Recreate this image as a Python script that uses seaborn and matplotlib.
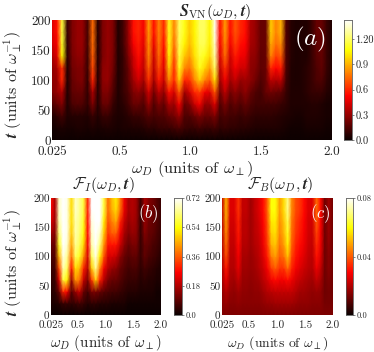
import numpy as np
import seaborn as sns
import matplotlib
matplotlib.use("Agg")
import matplotlib.pyplot as plt

# rows go t = 0, 20, ... 200
svn_t0 = [.01]*56
svn_t20 = [.02,.03,.04,.03,.03,.04,.04,.03,.05,.03,.04,.05,.04,.03,.04,.04,.05,.05,.06,.08,.07,.09,.1,.1,.12,.14,.11,.09,.1,.12,.1,.1,.12,.08,.1,.08,.08,.07,.07,.06,.05,.05,.05,.05,.05,.04,.03,.02,.02,.02,.03,.03,.03,.03,.02,.02]
svn_t40 = [.05,.08,.12,.05,.06,.06,.06,.05,.1,.05,.1,.1,.06,.04,.05,.07,.1,.1,.12,.16,.13,.15,.15,.2,.22,.3,.15,.15,.2,.25,.2,.2,.25,.12,.15,.12,.12,.1,.12,.1,.08,.08,.08,.08,.07,.06,.05,.04,.03,.03,.05,.05,.05,.04,.03,.03]
svn_t60 = [.15,.2,.25,.05,.14,.16,.15,.08,.25,.06,.2,.2,.1,.05,.07,.12,.2,.2,.15,.3,.15,.25,.18,.35,.3,.5,.2,.25,.4,.5,.3,.3,.45,.15,.25,.15,.2,.15,.2,.15,.12,.12,.12,.12,.12,.1,.08,.05,.05,.05,.05,.06,.06,.05,.03,.03]
svn_t80 = [.25,.3,.35,.05,.18,.2,.2,.08,.35,.06,.25,.25,.15,.05,.1,.15,.25,.28,.22,.42,.22,.38,.28,.55,.42,.7,.32,.42,.6,.65,.5,.45,.7,.22,.38,.22,.28,.22,.28,.2,.15,.12,.2,.22,.2,.18,.1,.05,.05,.05,.07,.09,.1,.1,.06,.04]
svn_t100 = [.28,.3,.6,.05,.2,.24,.25,.08,.6,.06,.28,.3,.18,.05,.1,.18,.32,.42,.32,.62,.32,.58,.4,.8,.6,.95,.6,.62,.8,.95,.8,.7,1.0,.32,.5,.32,.4,.3,.32,.28,.22,.15,.2,.38,.35,.38,.12,.05,.04,.05,.07,.1,.14,.15,.08,.04]
svn_t120 = [.28,.35,.62,.05,.22,.25,.25,.1,.68,.06,.28,.3,.22,.05,.1,.2,.38,.5,.38,.72,.38,.68,.45,.95,.62,1.1,.82,.75,.92,1.1,.98,.85,1.2,.38,.62,.38,.5,.42,.42,.28,.26,.18,.2,.6,.52,.58,.14,.05,.04,.05,.07,.1,.15,.18,.1,.04]
svn_t140 = [.35,.45,1.05,.07,.24,.28,.28,.1,.72,.06,.25,.3,.24,.05,.1,.25,.42,.55,.42,.8,.42,.75,.5,1.05,.68,1.15,.95,.85,1.0,1.15,1.1,.98,1.3,.45,.75,.42,.58,.5,.48,.3,.28,.18,.2,.8,.65,.72,.14,.06,.04,.05,.05,.1,.17,.19,.1,.04]
svn_t160 = [.42,.5,1.12,.08,.25,.3,.3,.12,.75,.06,.25,.3,.25,.05,.12,.28,.5,.58,.46,.82,.48,.78,.55,1.08,.75,1.18,1.05,.92,1.03,1.18,1.18,1.03,1.35,.5,.8,.5,.65,.55,.52,.33,.3,.2,.2,.88,.75,.82,.15,.06,.04,.05,.05,.1,.18,.2,.1,.04]
svn_t180 = [.45,.55,1.15,.1,.25,.3,.3,.12,.75,.06,.25,.3,.25,.05,.12,.3,.55,.6,.5,.85,.55,.8,.6,1.1,.8,1.2,1.1,.95,1.05,1.2,1.2,1.05,1.4,.55,.85,.55,.7,.6,.55,.35,.3,.2,.2,.95,.8,.9,.15,.06,.04,.05,.05,.1,.2,.2,.1,.04]
svn_t200 = [.45,.55,1.15,.1,.25,.3,.3,.12,.75,.06,.25,.3,.25,.05,.12,.3,.55,.6,.5,.85,.55,.8,.6,1.1,.8,1.2,1.1,.95,1.05,1.2,1.2,1.05,1.4,.55,.85,.55,.7,.6,.55,.35,.3,.2,.2,.95,.8,.9,.15,.06,.04,.05,.05,.1,.2,.2,.1,.04]

fi_t0 = [.0]*28
fi_t20 = [.02,.02,.03,.05,.05,.04,.05,.06,.05,.03,.04,.04,.03,.03,.03,.02,.02,.02,.02,.01,.01,.01,.01,.01,.01,.01,.01,.01]
fi_t40 = [.03,.04,.1,.3,.25,.08,.15,.2,.1,.06,.12,.12,.1,.08,.07,.06,.06,.05,.04,.03,.03,.03,.02,.02,.02,.02,.01,.01]
fi_t60 = [.04,.05,.22,.58,.52,.15,.42,.38,.2,.12,.32,.48,.3,.18,.12,.1,.1,.08,.06,.05,.05,.05,.03,.04,.03,.03,.02,.02]
fi_t80 = [.05,.06,.34,.66,.6,.28,.5,.46,.3,.18,.48,.64,.4,.25,.18,.15,.14,.1,.08,.06,.07,.07,.04,.06,.05,.04,.03,.02]
fi_t100 = [.07,.08,.46,.7,.64,.38,.6,.56,.42,.22,.6,.7,.52,.35,.22,.22,.2,.14,.1,.08,.09,.09,.05,.09,.07,.06,.05,.03]
fi_t120 = [.1,.1,.56,.72,.68,.44,.64,.6,.5,.25,.66,.72,.62,.42,.28,.28,.28,.2,.14,.1,.12,.12,.05,.1,.09,.07,.06,.04]
fi_t140 = [.16,.13,.62,.72,.7,.48,.66,.62,.54,.27,.68,.72,.68,.48,.32,.36,.36,.25,.17,.13,.15,.14,.05,.13,.1,.09,.07,.05]
fi_t160 = [.22,.16,.66,.72,.7,.5,.66,.63,.56,.28,.7,.72,.72,.52,.35,.4,.44,.3,.2,.15,.17,.15,.05,.15,.11,.1,.08,.05]
fi_t180 = [.26,.17,.68,.72,.7,.5,.68,.64,.58,.3,.72,.72,.72,.58,.38,.45,.5,.38,.24,.17,.18,.16,.05,.17,.12,.11,.08,.05]
fi_t200 = [.28,.17,.68,.72,.7,.5,.68,.64,.58,.3,.72,.72,.72,.58,.38,.47,.52,.4,.25,.17,.18,.16,.05,.17,.13,.11,.08,.05]

fb_t0 = [.014]*28
fb_t20 = [.015,.017,.015,.015,.016,.015,.015,.015,.015,.015,.016,.017,.017,.018,.018,.018,.018,.018,.017,.016,.016,.016,.015,.015,.015,.013,.013,.013]
fb_t40 = [.016,.02,.017,.016,.018,.016,.016,.015,.016,.016,.018,.02,.021,.022,.022,.022,.022,.022,.02,.018,.018,.017,.016,.017,.016,.012,.013,.012]
fb_t60 = [.018,.026,.019,.018,.022,.017,.017,.016,.017,.018,.021,.024,.028,.03,.028,.028,.03,.027,.024,.022,.02,.019,.018,.022,.019,.012,.014,.012]
fb_t80 = [.019,.032,.02,.02,.026,.018,.018,.017,.018,.02,.023,.028,.036,.04,.035,.035,.042,.033,.028,.025,.023,.021,.02,.027,.022,.012,.015,.012]
fb_t100 = [.02,.038,.021,.021,.028,.019,.019,.017,.019,.021,.025,.032,.044,.048,.04,.042,.052,.037,.031,.028,.025,.022,.021,.031,.025,.012,.015,.012]
fb_t120 = [.02,.042,.022,.022,.03,.02,.02,.018,.02,.022,.027,.035,.05,.053,.043,.047,.058,.04,.033,.03,.027,.023,.022,.034,.027,.012,.016,.012]
fb_t140 = [.021,.045,.023,.023,.032,.021,.021,.018,.021,.023,.028,.037,.054,.056,.045,.05,.062,.042,.035,.032,.028,.024,.023,.037,.028,.012,.017,.012]
fb_t160 = [.021,.048,.024,.024,.033,.021,.021,.018,.021,.024,.029,.038,.057,.058,.046,.052,.065,.043,.036,.033,.029,.024,.024,.04,.029,.012,.017,.012]
fb_t180 = [.022,.05,.025,.025,.035,.022,.022,.018,.022,.025,.03,.04,.06,.06,.048,.055,.07,.045,.038,.035,.03,.025,.025,.042,.03,.012,.018,.012]
fb_t200 = [.022,.05,.025,.025,.035,.022,.022,.018,.022,.025,.03,.04,.06,.06,.048,.055,.07,.045,.038,.035,.03,.025,.025,.042,.03,.012,.018,.012]

svn = np.array([svn_t0, svn_t20, svn_t40, svn_t60, svn_t80, svn_t100, svn_t120, svn_t140, svn_t160, svn_t180, svn_t200])
fi = np.array([fi_t0, fi_t20, fi_t40, fi_t60, fi_t80, fi_t100, fi_t120, fi_t140, fi_t160, fi_t180, fi_t200])
fb = np.array([fb_t0, fb_t20, fb_t40, fb_t60, fb_t80, fb_t100, fb_t120, fb_t140, fb_t160, fb_t180, fb_t200])

omega_ticks = [0.025, 0.5, 1.0, 1.5, 2.0]
omega_labels = ["0.025", "0.5", "1.0", "1.5", "2.0"]
t_ticks = [0, 50, 100, 150, 200]

sns.set_style("white")
plt.rcParams["font.family"] = "cmr10"
plt.rcParams["mathtext.fontset"] = "cm"
plt.rcParams["axes.unicode_minus"] = False
plt.rcParams["axes.formatter.use_mathtext"] = True

W, H = 374, 352
fig = plt.figure(figsize=(W / 100, H / 100), dpi=100)


def box(x0, y0, x1, y1):
    return [x0 / W, 1 - y1 / H, (x1 - x0) / W, (y1 - y0) / H]


def panel(data, vmax, rect, cbar_rect, cticks, clabels, tick_fs, cbar_fs, title, title_xy, tag, tag_fs):
    ax = fig.add_axes(box(*rect))
    cax = fig.add_axes(box(*cbar_rect))
    sns.heatmap(data, ax=ax, cbar_ax=cax, cmap="hot", vmin=0, vmax=vmax, shading="gouraud",
                xticklabels=False, yticklabels=False, cbar_kws={"ticks": cticks})
    ny, nx = data.shape
    ax.set_xlim(0, nx - 1)
    ax.set_ylim(0, ny - 1)
    ax.set_xticks([(w - 0.025) / 1.975 * (nx - 1) for w in omega_ticks], omega_labels, fontsize=tick_fs)
    ax.set_yticks([tt / 200 * (ny - 1) for tt in t_ticks], [str(tt) for tt in t_ticks], fontsize=tick_fs)
    ax.tick_params(axis="x", length=0, pad=4)
    ax.tick_params(axis="y", length=0, pad=1)
    cax.set_yticklabels(clabels, fontsize=cbar_fs)
    cax.tick_params(length=1.5, width=0.4, pad=1)
    for s in cax.spines.values():
        s.set_visible(True)
        s.set_linewidth(0.4)
        s.set_color("#555555")
    fig.text(title_xy[0] / W, 1 - title_xy[1] / H, title, fontsize=11.5, ha="center", va="center")
    ax.text(0.98, 0.96, tag, transform=ax.transAxes, color="white", ha="right", va="top", fontsize=tag_fs)
    return ax


ax_a = panel(svn, 1.43, (52, 20, 332, 140), (344, 20, 352, 140), [0, .3, .6, .9, 1.2],
             ["0.0", "0.3", "0.6", "0.9", "1.20"], 9.5, 7.5,
             r"$\boldsymbol{S}_{\mathrm{VN}}(\boldsymbol{\omega_D},\boldsymbol{t})$", (215, 12), "$(a)$", 18)
ax_b = panel(fi, 0.72, (51, 198, 161, 315), (174, 198, 182, 315), [0, .18, .36, .54, .72],
             ["0.0", "0.18", "0.36", "0.54", "0.72"], 8, 6,
             r"$\mathcal{F}_I(\boldsymbol{\omega_D},\boldsymbol{t})$", (103, 185), "$(b)$", 12)
ax_c = panel(fb, 0.08, (222, 198, 333, 315), (346, 198, 353, 315), [0, .04, .08],
             ["0.0", "0.04", "0.08"], 8, 6,
             r"$\mathcal{F}_B(\boldsymbol{\omega_D},\boldsymbol{t})$", (280, 185), "$(c)$", 12)

xlab = r"$\boldsymbol{\omega_D}$ (units of $\boldsymbol{\omega_\perp}$)"
ylab = r"$\boldsymbol{t}$ (units of $\boldsymbol{\omega_\perp^{-1}}$)"
ax_a.set_xlabel(xlab, fontsize=11.8, labelpad=1)
ax_b.set_xlabel(xlab, fontsize=10.8, labelpad=2)
ax_c.set_xlabel(xlab, fontsize=9.8, labelpad=3)
ax_a.set_ylabel(ylab, fontsize=11.5)
ax_b.set_ylabel(ylab, fontsize=11.5)
ax_a.yaxis.set_label_coords((24 - 52) / 280, 0.46)
ax_b.yaxis.set_label_coords((24 - 51) / 110, 0.45)

fig.savefig("out.png", dpi=100)
